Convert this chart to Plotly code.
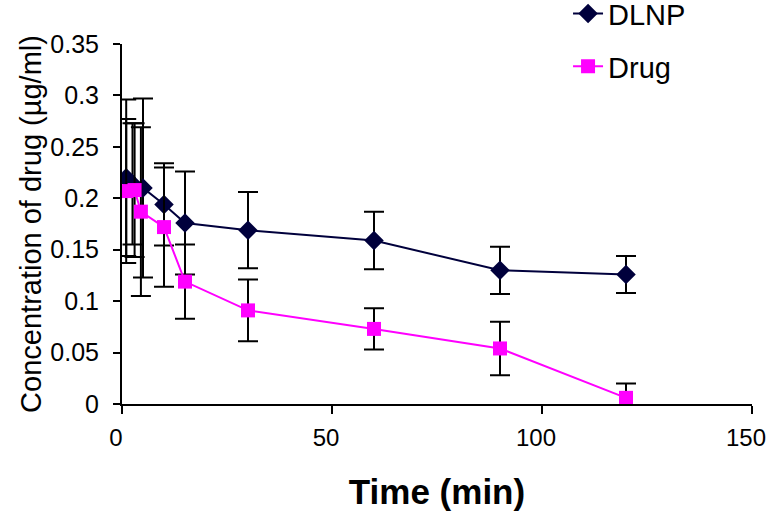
import plotly.graph_objects as go

# DLNP series
dlnp_time = [1, 2.5, 5, 10, 15, 30, 60, 90, 120]
dlnp_conc = [0.220, 0.214, 0.210, 0.194, 0.176, 0.169, 0.159, 0.130, 0.126]
dlnp_err = [0.076, 0.059, 0.087, 0.040, 0.050, 0.037, 0.028, 0.023, 0.018]

# Drug series
drug_time = [1, 3, 4.5, 10, 15, 30, 60, 90, 120]
drug_conc = [0.207, 0.208, 0.187, 0.172, 0.119, 0.091, 0.073, 0.054, 0.006]
drug_err = [0.070, 0.065, 0.082, 0.058, 0.036, 0.030, 0.020, 0.026, 0.014]

x_ticks = [0, 50, 100, 150]
y_ticks = [0, 0.05, 0.1, 0.15, 0.2, 0.25, 0.3, 0.35]
y_ticklabels = ["0", "0.05", "0.1", "0.15", "0.2", "0.25", "0.3", "0.35"]

FONT = "Liberation Sans, Arial, sans-serif"
NAVY = "#00003C"
PINK = "#FF00FF"

fig = go.Figure()
fig.add_trace(go.Scatter(
    x=dlnp_time, y=dlnp_conc, name="DLNP", mode="lines+markers",
    legendgroup="a",
    line=dict(color=NAVY, width=2),
    marker=dict(symbol="diamond", size=15, color=NAVY),
    error_y=dict(type="data", array=dlnp_err, visible=True,
                 color="black", thickness=2, width=10),
))
fig.add_trace(go.Scatter(
    x=drug_time, y=drug_conc, name="Drug", mode="lines+markers",
    legendgroup="b",
    line=dict(color=PINK, width=2),
    marker=dict(symbol="square", size=14, color=PINK),
    error_y=dict(type="data", array=drug_err, visible=True,
                 color="black", thickness=2, width=10),
))

fig.update_layout(
    width=767, height=524,
    margin=dict(l=122, r=15, t=44, b=120, autoexpand=False),
    paper_bgcolor="white", plot_bgcolor="white",
    font=dict(family=FONT, color="black", size=24),
    legend=dict(x=0.708, y=1.155, xanchor="left", yanchor="top",
                font=dict(size=29, family=FONT),
                bgcolor="rgba(0,0,0,0)", tracegroupgap=12),
    xaxis=dict(
        range=[0, 150], tickvals=x_ticks, ticks="outside", ticklen=8,
        tickwidth=2, tickcolor="black", showline=True, linecolor="black",
        linewidth=2, showgrid=False, zeroline=False, automargin=False,
        ticklabeloverflow="allow", ticklabelstandoff=3, ticklabelshift=-6,
        tickfont=dict(size=24, family=FONT),
        title=dict(text="<b>Time (min)</b>", font=dict(size=35, family=FONT),
                   standoff=30),
    ),
    yaxis=dict(
        range=[0, 0.35], tickvals=y_ticks, ticktext=y_ticklabels,
        ticks="outside", ticklen=7, tickwidth=2, tickcolor="black",
        showline=True, linecolor="black", linewidth=2, showgrid=False,
        zeroline=False, automargin=False, ticklabeloverflow="allow",
        ticklabelstandoff=9,
        tickfont=dict(size=25, family=FONT),
        title=dict(text="Concentration of drug (µg/ml)",
                   font=dict(size=29, family=FONT), standoff=0),
    ),
)

fig.write_html("out.html", config={"displayModeBar": False},
               post_script="document.body.style.margin='0';")
